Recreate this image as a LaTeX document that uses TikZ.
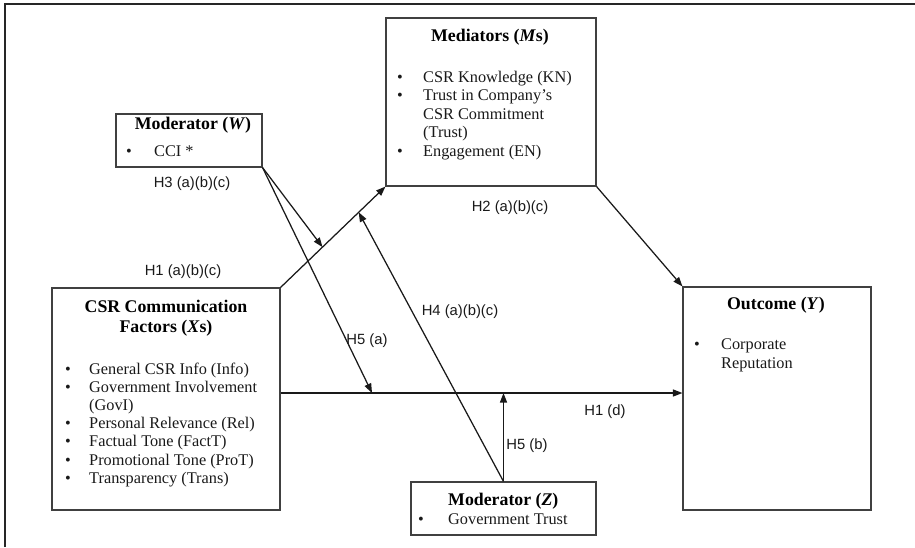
\documentclass[tikz,border=0pt]{standalone}
\usepackage{fontspec}
\setmainfont{Liberation Serif}
\newfontfamily\arialf{Liberation Sans}
\usetikzlibrary{arrows.meta,calc}
\newcommand{\bodyf}{\fontsize{16.3}{18.5}\selectfont}
\newcommand{\titlef}{\fontsize{17.8}{20}\selectfont\bfseries}
\newcommand{\labf}{\arialf\fontsize{14.8}{17}\selectfont}
\begin{document}
\begin{tikzpicture}[x=1pt,y=-1pt,
  box/.style n args={2}{draw=black!75, line width=1.1pt, inner sep=0pt,
     minimum width=#1, minimum height=#2},
  ttl/.style={anchor=base, inner sep=0pt, text=black, font=\titlef},
  ttlw/.style={anchor=base west, inner sep=0pt, text=black, font=\titlef},
  txt/.style={anchor=base west, inner sep=0pt, text=black!90, font=\bodyf},
  bul/.style={anchor=base, inner sep=0pt, text=black!90, font=\bodyf},
  lab/.style={anchor=center, inner sep=0pt, text=black!90, font=\labf},
  arr/.style={line width=1.25pt, draw=black!90, -{Triangle[length=9.5pt,width=7pt]}},
  frame/.style={line width=1.4pt, draw=black!85}]
\useasboundingbox (0,0) rectangle (915,547);
\draw[frame] (5,547) -- (5,4) -- (915,4);

% boxes
\node[box={146pt}{53pt}] (w) at (189,140.5) {};
\node[box={210pt}{168pt}] (med) at (491,102) {};
\node[box={228pt}{222pt}] (csr) at (166,399) {};
\node[box={185pt}{53pt}] (z) at (503.5,508.5) {};
\node[box={188pt}{223pt}] (out) at (777,398.5) {};

% Moderator W
\node[ttl] (wt) at (193,129) {Moderator (\textit{W})};
\node[bul] (wb1) at (129,156.5) {•};
\node[txt] (w1) at (154,156.5) {CCI *};

% Mediators
\node[ttl] (mt) at (490,41) {Mediators (\textit{M}s)};
\node[bul] (mb1) at (400,82) {•};
\node[txt] (m1) at (423,82) {CSR Knowledge (KN)};
\node[bul] (mb2) at (400,100.5) {•};
\node[txt] (m2) at (423,100.5) {Trust in Company’s};
\node[txt] (m3) at (423,119) {CSR Commitment};
\node[txt] (m4) at (423,137.5) {(Trust)};
\node[bul] (mb5) at (400,156) {•};
\node[txt] (m5) at (423,156) {Engagement (EN)};

% CSR communication factors
\node[ttl] (ct1) at (166,312) {CSR Communication};
\node[ttl] (ct2) at (166,332) {Factors (\textit{X}s)};
\node[bul] (cb1) at (68,374) {•};
\node[txt] (c1) at (89,374) {General CSR Info (Info)};
\node[bul] (cb2) at (68,392.2) {•};
\node[txt] (c2) at (89,392.2) {Government Involvement};
\node[txt] (c3) at (89,410.4) {(GovI)};
\node[bul] (cb4) at (68,428.6) {•};
\node[txt] (c4) at (89,428.6) {Personal Relevance (Rel)};
\node[bul] (cb5) at (68,446.8) {•};
\node[txt] (c5) at (89,446.8) {Factual Tone (FactT)};
\node[bul] (cb6) at (68,465) {•};
\node[txt] (c6) at (89,465) {Promotional Tone (ProT)};
\node[bul] (cb7) at (68,483.2) {•};
\node[txt] (c7) at (89,483.2) {Transparency (Trans)};

% Outcome
\node[ttl] (ot) at (776,309) {Outcome (\textit{Y})};
\node[bul] (ob1) at (697,349.5) {•};
\node[txt] (o1) at (721,349.5) {Corporate};
\node[txt] (o2) at (721,368.5) {Reputation};

% Moderator Z
\node[ttlw] (zt) at (448,505) {Moderator (\textit{Z})};
\node[bul] (zb1) at (421,524.5) {•};
\node[txt] (z1) at (448,524.5) {Government Trust};

% helper coordinates
\coordinate (x1) at (csr.east |- 0,393);
\coordinate (p3) at ($(csr.north east)!0.4!(med.south west)$);
\coordinate (p4) at ($(csr.north east)!0.745!(med.south west)$);
\coordinate (p5a) at (372,393);
\coordinate (p5b) at (z.north |- x1);

% connectors
\draw[arr] (csr.north east) -- (med.south west);
\draw[arr] (med.south east) -- (out.north west);
\draw[arr] (x1) -- (x1 -| out.west);
\draw[arr] (w.south east) -- (p3);
\draw[arr] (w.south east) -- (p5a);
\draw[arr] (z.north) -- (p4);
\draw[arr] (z.north) -- (p5b);

% labels
\node[lab] (l3) at (192,184) {H3 (a)(b)(c)};
\node[lab] (l1) at (183,272) {H1 (a)(b)(c)};
\node[lab] (l2) at (510,208) {H2 (a)(b)(c)};
\node[lab] (l5a) at (367,341) {H5 (a)};
\node[lab] (l4) at (460,312) {H4 (a)(b)(c)};
\node[lab] (l1d) at (605,412) {H1 (d)};
\node[lab] (l5b) at (527,446) {H5 (b)};
\end{tikzpicture}
\end{document}
